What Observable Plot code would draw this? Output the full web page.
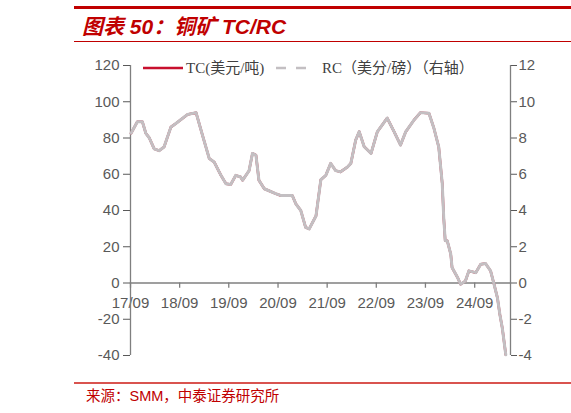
<!DOCTYPE html>
<html>
<head>
<meta charset="utf-8">
<script src="https://cdn.jsdelivr.net/npm/d3@7"></script>
<script src="https://cdn.jsdelivr.net/npm/@observablehq/plot@0.6"></script>
<style>
  html, body { margin: 0; padding: 0; background: #fff; width: 571px; height: 413px; overflow: hidden; position: relative; font-family: "Liberation Sans", Arial, "Noto Sans CJK SC", sans-serif; }
  .abs { position: absolute; }
  #topline { left: 74px; right: 0; top: 6px; height: 2.5px; background: #c00000; }
  #title { left: 82px; top: 10px; font-size: 21px; font-weight: bold; font-style: italic; color: #c00000; white-space: nowrap; font-family: "Liberation Sans", Arial, "Noto Sans CJK SC", sans-serif; }
  #subline { left: 74px; right: 0; top: 41px; height: 1.2px; background: #c00000; }
  #chart { left: 0; top: 50px; }
  #footline { left: 74px; right: 0; top: 382px; height: 1.5px; background: #d9534f; }
  #source { left: 86px; top: 384px; font-size: 14.5px; color: #c00000; white-space: nowrap; font-family: "Liberation Sans", Arial, "Noto Sans CJK SC", sans-serif; }
  .leg { top: 58px; font-size: 15px; color: #404040; white-space: nowrap; font-family: "Liberation Serif", "Times New Roman", "Noto Sans CJK SC", serif; line-height: 20px; }
</style>
</head>
<body>
<div id="topline" class="abs"></div>
<div id="title" class="abs">图表 50：铜矿 TC/RC</div>
<div id="subline" class="abs"></div>
<div id="chart" class="abs"></div>
<div id="footline" class="abs"></div>
<div id="source" class="abs">来源：SMM，中泰证券研究所</div>

<svg class="abs" style="left:0;top:0" width="571" height="90">
  <line x1="143" x2="183" y1="68" y2="68" stroke="#c8102e" stroke-width="2.5"/>
  <line x1="276" x2="310" y1="68" y2="68" stroke="#c3bfc2" stroke-width="2.5" stroke-dasharray="10,10"/>
</svg>
<div class="abs leg" style="left:186px">TC(美元/吨)</div>
<div class="abs leg" style="left:322px">RC（美分/磅）（右轴）</div>

<script>
// ---- data ----
const dates = [
  "2017-09-05","2017-10-22","2017-11-28","2017-12-24","2018-01-19","2018-02-24","2018-04-01","2018-05-08",
  "2018-06-28","2018-08-04","2018-10-30","2019-01-01","2019-02-17","2019-04-09","2019-05-15","2019-07-05",
  "2019-08-11","2019-09-16","2019-10-23","2019-11-28","2019-12-13","2020-01-30","2020-02-24","2020-03-21",
  "2020-04-12","2020-05-22","2020-08-14","2020-09-20","2020-12-16","2021-01-11","2021-02-17","2021-03-25",
  "2021-04-20","2021-06-10","2021-07-16","2021-08-22","2021-09-27","2021-11-03","2021-12-09","2022-01-30",
  "2022-02-24","2022-04-01","2022-04-27","2022-06-03","2022-07-24","2022-09-09","2022-11-21","2023-01-11",
  "2023-02-28","2023-04-08","2023-06-09","2023-07-26","2023-09-27","2023-11-03","2023-12-09","2024-01-04",
  "2024-01-15","2024-01-26","2024-02-10","2024-03-07","2024-03-17","2024-04-27","2024-05-19","2024-06-24",
  "2024-07-20","2024-09-09","2024-10-16","2024-11-21","2024-12-28","2025-01-23","2025-02-17","2025-03-07",
  "2025-03-25","2025-04-20"
];
const tc = [
  82.6, 89, 89, 82.6, 80, 74, 73, 75,
  86, 88, 93, 94, 81.7, 68.7, 66.8, 59.4,
  54.8, 54.4, 59.4, 58.5, 56.7, 62, 71.5, 70.5,
  56.7, 52, 49.3, 48.3, 48.3, 43.7, 40, 30.7,
  29.8, 37, 57, 59.4, 66, 62, 61.3, 64,
  66, 78.9, 83.5, 75.2, 71.5, 83.5, 91, 83.5,
  76.1, 83.5, 90, 94, 93.7, 85.4, 75, 54.8,
  36, 23.3, 23.3, 16, 8.5, 3, -0.7, 1.1,
  6.7, 5.7, 10.4, 10.7, 6.7, -0.7, -8.2, -17.4,
  -24.8, -39.6
];
const rc = [
  8.26, 8.9, 8.9, 8.26, 8.0, 7.4, 7.3, 7.5,
  8.6, 8.8, 9.3, 9.4, 8.17, 6.87, 6.68, 5.94,
  5.48, 5.44, 5.94, 5.85, 5.67, 6.2, 7.15, 7.05,
  5.67, 5.2, 4.93, 4.83, 4.83, 4.37, 4.0, 3.07,
  2.98, 3.7, 5.7, 5.94, 6.6, 6.2, 6.13, 6.4,
  6.6, 7.89, 8.35, 7.52, 7.15, 8.35, 9.1, 8.35,
  7.61, 8.35, 9.0, 9.4, 9.37, 8.54, 7.5, 5.48,
  3.6, 2.33, 2.33, 1.6, 0.85, 0.3, -0.07, 0.11,
  0.67, 0.57, 1.04, 1.07, 0.67, -0.07, -0.82, -1.74,
  -2.48, -3.96
];
const xDomain = ["2017-09-01", "2025-05-25"];
const xTickDates = ["2017-09-01","2018-09-01","2019-09-01","2020-09-01","2021-09-01","2022-09-01","2023-09-01","2024-09-01"];
const xTickLabels = ["17/09","18/09","19/09","20/09","21/09","22/09","23/09","24/09"];
const yTicks = [-40, -20, 0, 20, 40, 60, 80, 100, 120];
const yDomain = [-40, 120];
const rcScale = 10; // right axis = left / 10

// ---- build ----
const parse = d3.utcParse("%Y-%m-%d");
const data = dates.map((d, i) => ({date: parse(d), tc: tc[i], rc: rc[i]}));
const xd = xDomain.map(parse);
const xt = xTickDates.map(parse);
const axisColor = "#7f7f7f";
const textColor = "#595959";

const chart = Plot.plot({
  width: 571,
  height: 315,
  marginTop: 15,
  marginBottom: 10,
  marginLeft: 130,
  marginRight: 61,
  style: {fontFamily: "'Liberation Sans', Arial, sans-serif", fontSize: "15px", color: textColor, background: "transparent"},
  x: {type: "utc", domain: xd, axis: null},
  y: {domain: yDomain, label: null},
  marks: [
    Plot.ruleY([0], {stroke: axisColor, strokeWidth: 1.3}),
    Plot.ruleX(xt, {x: d => d, y1: 0, y2: -2.9, stroke: axisColor, strokeWidth: 1.3}),
    Plot.text(xt, {x: d => d, y: 0, dy: 20, text: (d, i) => xTickLabels[i], fill: textColor, fontSize: 15}),
    Plot.ruleX([xd[0]], {y1: yDomain[0], y2: yDomain[1], stroke: axisColor, strokeWidth: 1.3}),
    Plot.ruleX([xd[1]], {y1: yDomain[0], y2: yDomain[1], stroke: axisColor, strokeWidth: 1.3}),
    Plot.axisY({anchor: "left", ticks: yTicks, tickFormat: d => String(d), tickSize: 7, tickPadding: 4, color: textColor, fontSize: 15, label: null}),
    Plot.axisY({anchor: "right", ticks: yTicks, tickFormat: d => String(d / rcScale), tickSize: 6, tickPadding: 2, color: textColor, fontSize: 15, label: null}),
    Plot.lineY(data, {x: "date", y: "tc", stroke: "#c8102e", strokeWidth: 2.5}),
    Plot.lineY(data, {x: "date", y: d => d.rc * rcScale, stroke: "#c3bfc2", strokeWidth: 3})
  ]
});
document.getElementById("chart").appendChild(chart);
</script>
</body>
</html>
